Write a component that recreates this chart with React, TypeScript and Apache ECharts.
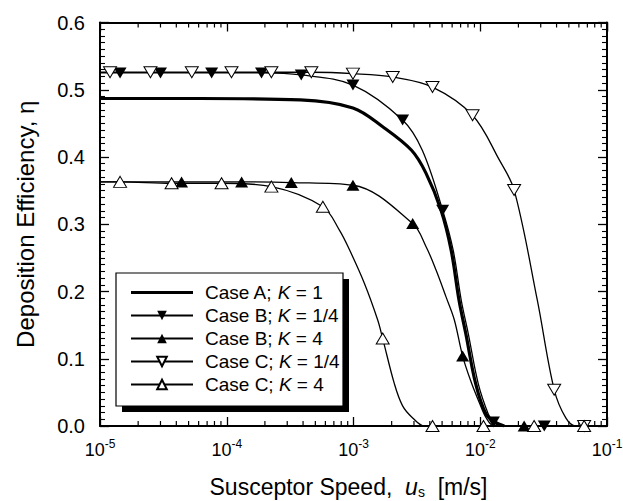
import React, { useEffect, useRef } from 'react';
import * as echarts from 'echarts';

const FONT = '"Liberation Sans", Arial, Helvetica, sans-serif';

const seriesNames = ['Case A; K = 1', 'Case B; K = 1/4', 'Case B; K = 4', 'Case C; K = 1/4', 'Case C; K = 4'];

// Case A; K = 1 (thick line, no markers)
const caseA: number[][] = [
  [1e-5, 0.487], [6.1e-5, 0.487], [3.8e-4, 0.485], [9.9e-4, 0.473], [1.7e-3, 0.445],
  [2.87e-3, 0.41], [3.73e-3, 0.376], [4.9e-3, 0.321], [5.9e-3, 0.261], [6.8e-3, 0.187],
  [7.7e-3, 0.137], [9.2e-3, 0.063], [1.11e-2, 0.018], [1.33e-2, 0.005], [1.55e-2, 0],
];

// Case B; K = 1/4 (filled down triangles)
const caseBQuarterMarkers: number[][] = [
  [1.44e-5, 0.525], [3.0e-5, 0.525], [7.6e-5, 0.525], [1.88e-4, 0.525], [3.87e-4, 0.522],
  [9.9e-4, 0.507], [2.44e-3, 0.455], [5.05e-3, 0.321], [1.27e-2, 0.006], [3.2e-2, 0],
];
const caseBQuarterCurve: number[][] = [
  [1e-5, 0.525], [3.49e-3, 0.41], [6.12e-3, 0.261], [7.08e-3, 0.187], [8.05e-3, 0.137],
  [9.64e-3, 0.063], [1.156e-2, 0.018], [1.45e-2, 0],
];

// Case B; K = 4 (filled up triangles)
const caseBFourMarkers: number[][] = [
  [4.4e-5, 0.363], [1.31e-4, 0.363], [3.23e-4, 0.362], [9.9e-4, 0.358], [2.93e-3, 0.301],
  [7.26e-3, 0.104], [2.22e-2, 0],
];
const caseBFourCurve: number[][] = [
  [1e-5, 0.363], [3.73e-3, 0.267], [4.48e-3, 0.232], [5.37e-3, 0.192], [6.24e-3, 0.158],
  [8.49e-3, 0.065], [9.82e-3, 0.035], [1.114e-2, 0.012], [1.29e-2, 0],
];

// Case C; K = 1/4 (open down triangles)
const caseCQuarterMarkers: number[][] = [
  [1.2e-5, 0.526], [2.5e-5, 0.526], [5.3e-5, 0.526], [1.09e-4, 0.526], [2.25e-4, 0.526],
  [4.65e-4, 0.526], [9.9e-4, 0.524], [2.04e-3, 0.519], [4.2e-3, 0.504], [8.7e-3, 0.462],
  [1.85e-2, 0.351], [3.83e-2, 0.054], [6.6e-2, 0],
];
const caseCQuarterCurve: number[][] = [
  [1e-5, 0.526], [1.41e-2, 0.396], [2.82e-2, 0.187], [4.73e-2, 0.012], [5.68e-2, 0],
];

// Case C; K = 4 (open up triangles)
const caseCFourMarkers: number[][] = [
  [1.44e-5, 0.363], [3.67e-5, 0.361], [9.1e-5, 0.361], [2.25e-4, 0.356], [5.73e-4, 0.326],
  [1.7e-3, 0.13], [4.2e-3, 0], [1.06e-2, 0], [2.66e-2, 0], [6.6e-2, 0],
];
const caseCFourCurve: number[][] = [
  [1e-5, 0.363], [7.76e-4, 0.291], [9.3e-4, 0.262], [1.22e-3, 0.212], [1.55e-3, 0.158],
  [2.1e-3, 0.063], [2.44e-3, 0.03], [2.93e-3, 0.012], [3.62e-3, 0],
];

// axis definition
const xMin = 1e-5;
const xMax = 1e-1;
const yMin = 0;
const yMax = 0.6;
const yStep = 0.1;
const minorDecades = [1e-5, 1e-4, 1e-3, 1e-2];
const minorMultipliers = [2, 3, 4, 5, 6, 7, 8, 9];

const DOWN = 'path://M0,0L10,0L5,9Z';
const UP = 'path://M5,0L10,9L0,9Z';
const THICK_LINE_ICON = 'path://M0,0L62,0L62,3.2L0,3.2Z';

function merge(markers: number[][], curve: number[][]) {
  const all = [
    ...markers.map((p) => ({ value: p, m: true })),
    ...curve.map((p) => ({ value: p, m: false })),
  ].sort((a, b) => a.value[0] - b.value[0]);
  return all.map((d) => (d.m ? { value: d.value } : { value: d.value, symbol: 'none' }));
}

export default function App() {
  const ref = useRef<HTMLDivElement>(null);
  useEffect(() => {
    if (!ref.current) return;
    const chart = echarts.init(ref.current, undefined, { renderer: 'svg' });
    const minorTicks: number[][] = [];
    minorDecades.forEach((d) => minorMultipliers.forEach((m) => minorTicks.push([d * m])));

    const thin = { color: '#000', width: 1.3 };
    const lineBase = {
      type: 'line' as const,
      xAxisIndex: 0,
      yAxisIndex: 0,
      smooth: 0.35,
      showAllSymbol: true,
      symbolSize: [13, 11],
      z: 3,
    };

    const xAxisCommon = {
      type: 'log' as const,
      logBase: 10,
      min: xMin,
      max: xMax,
      splitNumber: 4,
      splitLine: { show: false },
      axisLine: { show: true, onZero: false, lineStyle: { color: '#000', width: 2 } },
      axisTick: { show: true, inside: true, length: 9, lineStyle: { color: '#000', width: 1.3 } },
      minorTick: { show: false },
    };
    const yAxisCommon = {
      type: 'value' as const,
      min: yMin,
      max: yMax,
      interval: yStep,
      splitLine: { show: false },
      axisLine: { show: true, onZero: false, lineStyle: { color: '#000', width: 2 } },
      axisTick: { show: true, inside: true, length: 9, lineStyle: { color: '#000', width: 1.3 } },
      minorTick: { show: true, splitNumber: 10, length: 5, lineStyle: { color: '#000', width: 1.1 } },
    };

    chart.setOption({
      animation: false,
      backgroundColor: '#fff',
      grid: { left: 100, right: 16, top: 22.5, bottom: 75, containLabel: false, outerBoundsMode: 'none' },
      xAxis: [
        {
          ...xAxisCommon,
          position: 'bottom',
          name: 'Susceptor Speed,  {i|u}{sub|s}  [m/s]',
          nameLocation: 'middle',
          nameGap: 49,
          nameTextStyle: {
            color: '#000',
            fontFamily: FONT,
            fontSize: 23,
            lineHeight: 24,
            padding: [0, 10, 0, 0],
            rich: {
              i: { fontStyle: 'italic', fontFamily: FONT, fontSize: 23, color: '#000', lineHeight: 24 },
              sub: { fontFamily: FONT, fontSize: 14, color: '#000', verticalAlign: 'bottom', lineHeight: 14 },
            },
          },
          axisLabel: {
            show: true,
            margin: 12,
            formatter: (v: number) => `{b|10}{s|${Math.round(Math.log10(v))}}`,
            rich: {
              b: { fontFamily: FONT, fontSize: 18, color: '#000', lineHeight: 24 },
              s: { fontFamily: FONT, fontSize: 12, color: '#000', verticalAlign: 'top', lineHeight: 12 },
            },
          },
        },
        {
          ...xAxisCommon,
          position: 'top',
          axisLabel: { show: false },
        },
      ],
      yAxis: [
        {
          ...yAxisCommon,
          position: 'left',
          name: 'Deposition Efficiency, η',
          nameLocation: 'middle',
          nameGap: 63,
          nameTextStyle: { color: '#000', fontFamily: FONT, fontSize: 24 },
          axisLabel: {
            show: true,
            margin: 15,
            color: '#000',
            fontFamily: FONT,
            fontSize: 20,
            formatter: (v: number) => v.toFixed(1),
          },
        },
        {
          ...yAxisCommon,
          position: 'right',
          axisLabel: { show: false },
        },
      ],
      legend: {
        data: [
          { name: seriesNames[0], icon: THICK_LINE_ICON },
          seriesNames[1],
          seriesNames[2],
          seriesNames[3],
          seriesNames[4],
        ],
        orient: 'vertical',
        left: 130,
        top: 283,
        itemWidth: 62,
        itemHeight: 12,
        itemGap: 4,
        padding: 0,
        z: 20,
        formatter: (name: string) => {
          const [a, b] = name.split('K');
          return `{g|}${a}{i|K}${b}`;
        },
        textStyle: {
          color: '#000',
          fontFamily: FONT,
          fontSize: 19,
          rich: {
            g: { width: 7 },
            i: { fontStyle: 'italic', fontFamily: FONT, fontSize: 19, color: '#000' },
          },
        },
      },
      graphic: [
        { type: 'rect', z: 10, shape: { x: 122, y: 279, width: 227, height: 133 }, style: { fill: '#000' } },
        { type: 'rect', z: 11, shape: { x: 116, y: 273, width: 227, height: 133 }, style: { fill: '#fff', stroke: '#000', lineWidth: 1.2 } },
      ],
      series: [
        {
          ...lineBase,
          name: seriesNames[0],
          data: caseA,
          symbol: 'none',
          lineStyle: { color: '#000', width: 3.2 },
          itemStyle: { color: '#000' },
        },
        {
          ...lineBase,
          name: seriesNames[1],
          data: merge(caseBQuarterMarkers, caseBQuarterCurve),
          symbol: DOWN,
          lineStyle: thin,
          itemStyle: { color: '#000' },
        },
        {
          ...lineBase,
          name: seriesNames[2],
          data: merge(caseBFourMarkers, caseBFourCurve),
          symbol: UP,
          lineStyle: thin,
          itemStyle: { color: '#000' },
        },
        {
          ...lineBase,
          name: seriesNames[3],
          data: merge(caseCQuarterMarkers, caseCQuarterCurve),
          symbol: DOWN,
          lineStyle: thin,
          itemStyle: { color: '#fff', borderColor: '#000', borderWidth: 1 },
        },
        {
          ...lineBase,
          name: seriesNames[4],
          data: merge(caseCFourMarkers, caseCFourCurve),
          symbol: UP,
          lineStyle: thin,
          itemStyle: { color: '#fff', borderColor: '#000', borderWidth: 1 },
        },
        {
          type: 'custom',
          name: 'minorTicks',
          xAxisIndex: 0,
          yAxisIndex: 0,
          silent: true,
          z: 1,
          data: minorTicks,
          renderItem: (_params: any, api: any) => {
            const v = api.value(0);
            const b = api.coord([v, yMin]);
            const t = api.coord([v, yMax]);
            const st = { stroke: '#000', lineWidth: 1.2 };
            return {
              type: 'group',
              children: [
                { type: 'line', shape: { x1: b[0], y1: b[1], x2: b[0], y2: b[1] - 5 }, style: st },
                { type: 'line', shape: { x1: t[0], y1: t[1], x2: t[0], y2: t[1] + 5 }, style: st },
              ],
            };
          },
        },
      ],
    });
    return () => chart.dispose();
  }, []);
  return (
    <div
      ref={ref}
      style={{ position: 'fixed', left: 0, top: 0, width: 623, height: 501, background: '#fff' }}
    />
  );
}
